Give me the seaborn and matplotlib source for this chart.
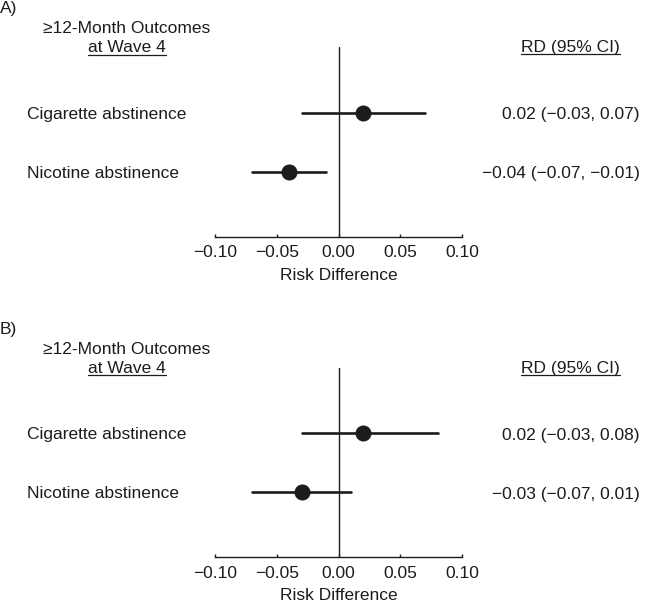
import matplotlib
matplotlib.use("agg")
import matplotlib.pyplot as plt
from matplotlib.lines import Line2D
import seaborn as sns
import pandas as pd

# data
outcomes = ["Cigarette abstinence", "Nicotine abstinence"]
a_est = [0.02, -0.04]
a_lo = [-0.03, -0.07]
a_hi = [0.07, -0.01]
b_est = [0.02, -0.03]
b_lo = [-0.03, -0.07]
b_hi = [0.08, 0.01]
panel_labels = ["A)", "B)"]
x_ticks = [-0.10, -0.05, 0.00, 0.05, 0.10]
x_ticklabels = ["\u22120.10", "\u22120.05", "0.00", "0.05", "0.10"]

sns.set_style("ticks")
plt.rcParams['font.family'] = ['Liberation Sans', 'DejaVu Sans']
FS = 12.5
INK = "#1c1c1c"

W, H = 650, 603
fig = plt.figure(figsize=(W / 100, H / 100), dpi=100)


def fx(px):
    return px / W


def fy(py):
    return 1 - py / H


def make_df(est, lo, hi):
    # each row as [lo, est, hi]: median -> estimate, 100% interval -> CI
    rows = []
    for name, e, l, h in zip(outcomes, est, lo, hi):
        for v in (l, e, h):
            rows.append({"outcome": name, "value": v})
    return pd.DataFrame(rows)


def fmt(v):
    return f"{v:.2f}".replace("-", "\u2212")


underlined = []


def draw_panel(est, lo, hi, label, off):
    ax_top, ax_bot = 47 + off, 236.7 + off
    ax = fig.add_axes([fx(215), fy(ax_bot), fx(462.3) - fx(215), (ax_bot - ax_top) / H])
    df = make_df(est, lo, hi)
    sns.pointplot(data=df, x="value", y="outcome", order=outcomes,
                  estimator="median", errorbar=("pi", 100),
                  linestyle="none", marker="o", markersize=9.5,
                  color=INK, err_kws={"linewidth": 1.9}, ax=ax)
    ax.axvline(0, color=INK, linewidth=1.0, zorder=0)
    ax.set_xlim(-0.1, 0.1)
    ax.set_ylim(2.1, -1.12)
    ax.set_xticks(x_ticks)
    ax.set_xticklabels(x_ticklabels, fontsize=FS, color=INK)
    ax.tick_params(axis="x", direction="in", length=2.5, width=1, color=INK, pad=6)
    ax.set_yticks([])
    ax.set_ylabel("")
    ax.set_xlabel("Risk Difference", fontsize=FS, color=INK, labelpad=5.5)
    for s in ["left", "right", "top"]:
        ax.spines[s].set_visible(False)
    ax.spines["bottom"].set_color(INK)
    ax.spines["bottom"].set_linewidth(1.0)
    ax.patch.set_alpha(0)

    fig.text(fx(0), fy(13.5 + off), label, fontsize=FS, color=INK, va="baseline", ha="left")
    fig.text(fx(127), fy(33 + off), "\u226512-Month Outcomes", fontsize=FS, color=INK,
             va="baseline", ha="center")
    t1 = fig.text(fx(127), fy(52.3 + off), "at Wave 4", fontsize=FS, color=INK,
                  va="baseline", ha="center")
    t2 = fig.text(fx(570.5), fy(52 + off), "RD (95% CI)", fontsize=FS, color=INK,
                  va="baseline", ha="center")
    underlined.append((t1, 54.5 + off))
    underlined.append((t2, 54 + off))
    base_rows = [119 + off, 177.5 + off]
    for name, e, l, h, yb in zip(outcomes, est, lo, hi, base_rows):
        fig.text(fx(27), fy(yb), name, fontsize=FS, color=INK, va="baseline", ha="left")
        fig.text(fx(640), fy(yb + 0.5), f"{fmt(e)} ({fmt(l)}, {fmt(h)})", fontsize=FS,
                 color=INK, va="baseline", ha="right")


draw_panel(a_est, a_lo, a_hi, panel_labels[0], 0)
draw_panel(b_est, b_lo, b_hi, panel_labels[1], 320.5)

# underline headers
fig.canvas.draw()
r = fig.canvas.get_renderer()
for t, ypx in underlined:
    bb = t.get_window_extent(r)
    fig.add_artist(Line2D([bb.x0 / W, bb.x1 / W], [fy(ypx), fy(ypx)],
                          color=INK, linewidth=0.9, transform=fig.transFigure))

fig.savefig("out.png", dpi=100, facecolor="white")
